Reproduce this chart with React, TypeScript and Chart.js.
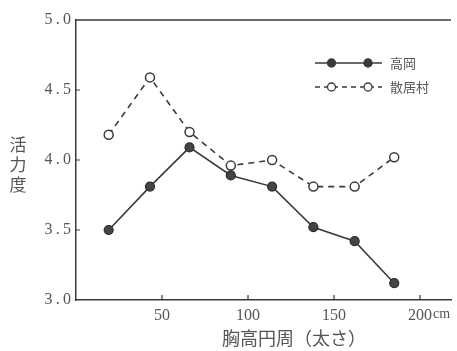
import React, { useEffect, useRef } from "react";
import { Chart, registerables } from "chart.js";

Chart.register(...registerables);

// ---- data ----
const girth = [19, 43, 66, 90, 114, 138, 162, 185];
const takaoka = [3.5, 3.81, 4.09, 3.89, 3.81, 3.52, 3.42, 3.12];
const sankyoson = [4.18, 4.59, 4.2, 3.96, 4.0, 3.81, 3.81, 4.02];
const xTicks = [50, 100, 150, 200];
const seriesNames = ["高岡", "散居村"];
const yTitle = "活力度";
const xTitle = "胸高円周（太さ）";
const xUnit = "cm";

const NUM_FONT = "'Liberation Serif', 'DejaVu Serif', serif";
const JP_FONT = "'Noto Sans CJK JP', sans-serif";
const INK = "#3a3a3a";
const TEXT = "#555";

const decor = {
  id: "decor",
  afterDraw(chart: any) {
    const { ctx, chartArea, scales } = chart;
    const xs = scales.x;
    const ys = scales.y;
    ctx.save();
    ctx.strokeStyle = INK;
    ctx.lineWidth = 1.5;
    // top frame line
    ctx.beginPath();
    ctx.moveTo(chartArea.left, chartArea.top);
    ctx.lineTo(chartArea.right, chartArea.top);
    ctx.stroke();
    // x ticks (inside)
    ctx.lineWidth = 1.2;
    ctx.beginPath();
    xTicks.forEach((v) => {
      const px = xs.getPixelForValue(v);
      ctx.moveTo(px, chartArea.bottom);
      ctx.lineTo(px, chartArea.bottom - 5);
    });
    // y ticks (inside)
    [3.5, 4.0, 4.5].forEach((v) => {
      const py = ys.getPixelForValue(v);
      ctx.moveTo(chartArea.left, py);
      ctx.lineTo(chartArea.left + 4, py);
    });
    ctx.stroke();

    // unit after last x tick label
    ctx.font = "16px " + NUM_FONT;
    const last = xTicks[xTicks.length - 1];
    const lw = ctx.measureText(String(last)).width;
    ctx.fillStyle = TEXT;
    ctx.textBaseline = "alphabetic";
    ctx.textAlign = "left";
    ctx.font = "14px " + NUM_FONT;
    ctx.fillText(xUnit, xs.getPixelForValue(last) + lw / 2 + 1, 318);

    // x title
    ctx.textBaseline = "middle";
    ctx.font = "18px " + JP_FONT;
    ctx.textAlign = "center";
    ctx.fillText(xTitle, 294, 338);

    // y title, vertical
    ctx.font = "17px " + JP_FONT;
    const chars = Array.from(yTitle);
    chars.forEach((c, i) => ctx.fillText(c, 18, 145 + i * 20));

    // legend
    const rows = [
      { y: 63, dash: [] as number[], fill: INK, name: seriesNames[0] },
      { y: 87, dash: [5, 4], fill: "#fff", name: seriesNames[1] },
    ];
    rows.forEach((r) => {
      ctx.setLineDash(r.dash);
      ctx.strokeStyle = INK;
      ctx.lineWidth = 1.3;
      ctx.beginPath();
      ctx.moveTo(315, r.y);
      ctx.lineTo(382, r.y);
      ctx.stroke();
      ctx.setLineDash([]);
      [331.5, 368].forEach((mx) => {
        ctx.beginPath();
        ctx.arc(mx, r.y, 4, 0, Math.PI * 2);
        ctx.fillStyle = r.fill;
        ctx.fill();
        ctx.lineWidth = 1.3;
        ctx.stroke();
      });
      ctx.fillStyle = TEXT;
      ctx.font = "13px " + JP_FONT;
      ctx.textAlign = "left";
      ctx.fillText(r.name, 390, r.y);
    });
    ctx.restore();
  },
};

export default function App() {
  const ref = useRef<HTMLCanvasElement | null>(null);
  useEffect(() => {
    if (!ref.current) return;
    const chart = new Chart(ref.current, {
      type: "scatter",
      data: {
        datasets: [
          {
            label: seriesNames[0],
            data: girth.map((x, i) => ({ x, y: takaoka[i] })),
            showLine: true,
            borderColor: INK,
            borderWidth: 1.6,
            pointRadius: 4.5,
            pointBackgroundColor: "#444",
            pointBorderColor: "#2a2a2a",
            pointBorderWidth: 1.2,
          },
          {
            label: seriesNames[1],
            data: girth.map((x, i) => ({ x, y: sankyoson[i] })),
            showLine: true,
            borderColor: INK,
            borderWidth: 1.6,
            borderDash: [6, 5],
            pointRadius: 4.5,
            pointBackgroundColor: "#fff",
            pointBorderColor: INK,
            pointBorderWidth: 1.5,
          },
        ],
      },
      options: {
        responsive: false,
        animation: false,
        layout: { padding: { left: 0, top: 20, right: 2, bottom: 0 } },
        plugins: { legend: { display: false }, tooltip: { enabled: false } },
        scales: {
          x: {
            type: "linear",
            min: 0,
            max: 218,
            grid: { display: false, drawTicks: false },
            border: { display: true, color: INK, width: 1.5 },
            afterBuildTicks: (s: any) => {
              s.ticks = xTicks.map((v) => ({ value: v }));
            },
            afterFit: (s: any) => {
              s.height = 51;
            },
            ticks: {
              padding: 6,
              color: TEXT,
              font: { family: NUM_FONT, size: 16 },
              maxRotation: 0,
              autoSkip: false,
              callback: (v: any) => String(v),
            },
          },
          y: {
            min: 3,
            max: 5,
            grid: { display: false, drawTicks: false },
            border: { display: true, color: INK, width: 1.5 },
            afterFit: (s: any) => {
              s.width = 76;
            },
            ticks: {
              stepSize: 0.5,
              padding: 5,
              color: TEXT,
              font: { family: NUM_FONT, size: 16 },
              callback: (v: any) => Number(v).toFixed(1).replace(".", "\u2009.\u2009"),
            },
          },
        },
      },
      plugins: [decor],
    });
    return () => chart.destroy();
  }, []);
  return (
    <div style={{ position: "fixed", left: 0, top: 0, width: 457, height: 351, background: "#fff" }}>
      <canvas ref={ref} width={457} height={351} />
    </div>
  );
}
